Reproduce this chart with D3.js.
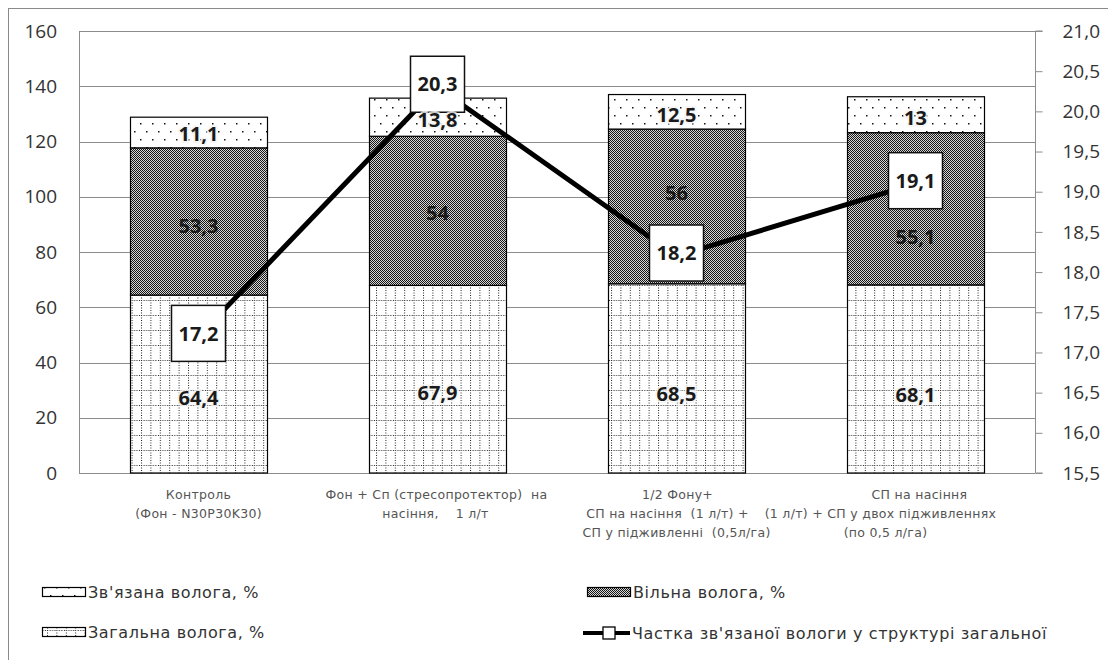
<!DOCTYPE html>
<html>
<head>
<meta charset="utf-8">
<script src="https://cdn.jsdelivr.net/npm/d3@7"></script>
<style>
  body { margin: 0; background: #fff; }
  svg { display: block; }
  .cat { white-space: pre; }
</style>
</head>
<body>
<svg id="chart" width="1108" height="660"></svg>
<script>
// Variants of the experiment (category labels, one array per wrapped line set)
const categories = [
  ["Контроль", "(Фон - N30P30K30)"],
  ["Фон + Сп (стресопротектор)  на", "насіння,    1 л/т"],
  ["1/2 Фону+", "СП на насіння  (1 л/т) +", "СП у підживленні  (0,5л/га)"],
  ["СП на насіння", "(1 л/т) + СП у двох підживленнях", "(по 0,5 л/га)"]
];

// Stacked moisture components, %
const totalMoisture = [64.4, 67.9, 68.5, 68.1];   // Загальна волога
const freeMoisture  = [53.3, 54, 56, 55.1];       // Вільна волога
const boundMoisture = [11.1, 13.8, 12.5, 13];     // Зв'язана волога

// Share of bound moisture in total structure (right axis)
const boundShare = [17.2, 20.3, 18.2, 19.1];

const leftTicks  = [0, 20, 40, 60, 80, 100, 120, 140, 160];
const rightTicks = [15.5, 16.0, 16.5, 17.0, 17.5, 18.0, 18.5, 19.0, 19.5, 20.0, 20.5, 21.0];

const seriesNames = {
  bound: "Зв'язана волога, %",
  free: "Вільна волога, %",
  total: "Загальна волога, %",
  share: "Частка зв'язаної вологи у структурі загальної"
};

// Manual vertical nudges (px) of the segment labels so they clear the line boxes
const labelNudge = {
  total: [14, 14, 15, 16],
  free:  [4, 2, -14, 28],
  bound: [1, 3, 3, 3]
};
// Horizontal shift (px) of individual category label lines
const catLineShift = [[0, 0], [-1, -2], [1, -9, 0], [4, -35, -30]];

const fmt = v => String(v).replace(".", ",");
const fmt1 = v => v.toFixed(1).replace(".", ",");

const svg = d3.select("#chart");
const plot = { left: 79, right: 1035, top: 31, bottom: 473 };

// ---- patterns ----
const defs = svg.append("defs");

const pDots = defs.append("pattern").attr("id", "pat-dots")
  .attr("patternUnits", "userSpaceOnUse").attr("width", 12).attr("height", 16);
pDots.append("rect").attr("width", 12).attr("height", 16).attr("fill", "#fff");
pDots.append("rect").attr("x", 2).attr("y", 3).attr("width", 1.5).attr("height", 1.5).attr("fill", "#111");
pDots.append("rect").attr("x", 8).attr("y", 11).attr("width", 1.5).attr("height", 1.5).attr("fill", "#111");

const pCheck = defs.append("pattern").attr("id", "pat-check")
  .attr("patternUnits", "userSpaceOnUse").attr("width", 2).attr("height", 2);
pCheck.append("rect").attr("width", 2).attr("height", 2).attr("fill", "#d6d6d6");
pCheck.append("rect").attr("x", 0).attr("y", 0).attr("width", 1).attr("height", 1).attr("fill", "#161616");
pCheck.append("rect").attr("x", 1).attr("y", 1).attr("width", 1).attr("height", 1).attr("fill", "#161616");

const pGrid = defs.append("pattern").attr("id", "pat-grid")
  .attr("patternUnits", "userSpaceOnUse").attr("width", 9.4).attr("height", 15);
pGrid.append("rect").attr("width", 9.4).attr("height", 15).attr("fill", "#fff");
pGrid.append("line").attr("x1", 0.5).attr("x2", 0.5).attr("y1", 0).attr("y2", 15)
  .attr("stroke", "#222").attr("stroke-width", 1).attr("stroke-dasharray", "1,1.5");
pGrid.append("line").attr("x1", 0).attr("x2", 9.4).attr("y1", 0.5).attr("y2", 0.5)
  .attr("stroke", "#222").attr("stroke-width", 1).attr("stroke-dasharray", "1,1.5");

// ---- outer frame ----
svg.append("rect").attr("x", 8.5).attr("y", 8.5).attr("width", 1120).attr("height", 700)
  .attr("fill", "none").attr("stroke", "#8a8a8a").attr("stroke-width", 1);

// ---- scales ----
const x = d3.scaleBand().domain(d3.range(categories.length))
  .range([plot.left, plot.right]).paddingInner(0.426).paddingOuter(0.213);
const y = d3.scaleLinear().domain([0, 160]).range([plot.bottom, plot.top]);
const y2 = d3.scaleLinear().domain([15.5, 21.0]).range([plot.bottom, plot.top]);

// ---- gridlines ----
svg.append("g").selectAll("line").data(leftTicks).join("line")
  .attr("x1", plot.left).attr("x2", plot.right)
  .attr("y1", d => Math.round(y(d)) + 0.5).attr("y2", d => Math.round(y(d)) + 0.5)
  .attr("stroke", "#8c8c8c").attr("stroke-width", 1);

// left plot edge
svg.append("line").attr("x1", plot.left + 0.5).attr("x2", plot.left + 0.5)
  .attr("y1", plot.top).attr("y2", plot.bottom).attr("stroke", "#8c8c8c");

// ---- axes ----
const axisFont = "'Open Sans', 'DejaVu Sans', sans-serif";
const gL = svg.append("g").attr("transform", `translate(${plot.left},0)`)
  .call(d3.axisLeft(y).tickValues(leftTicks).tickSize(0).tickPadding(22).tickFormat(d3.format("d")));
gL.select(".domain").remove();
gL.selectAll("text").attr("font-family", axisFont).attr("font-size", 19).attr("fill", "#333");

const gR = svg.append("g").attr("transform", `translate(${plot.right + 0.5},0)`)
  .call(d3.axisRight(y2).tickValues(rightTicks).tickSize(7).tickPadding(20).tickFormat(fmt1));
gR.select(".domain").attr("stroke", "#8c8c8c").attr("d", `M7,${plot.top}H0V${plot.bottom}H7`);
gR.selectAll(".tick line").attr("stroke", "#8c8c8c");
gR.selectAll("text").attr("font-family", axisFont).attr("font-size", 19).attr("fill", "#333");

// ---- stacked bars ----
const stacks = categories.map((c, i) => {
  const a = totalMoisture[i], b = freeMoisture[i], c2 = boundMoisture[i];
  return [
    { i, key: "total", y0: 0, y1: a, v: a, fill: "url(#pat-grid)" },
    { i, key: "free", y0: a, y1: a + b, v: b, fill: "url(#pat-check)" },
    { i, key: "bound", y0: a + b, y1: a + b + c2, v: c2, fill: "url(#pat-dots)" }
  ];
}).flat();

svg.append("g").selectAll("rect").data(stacks).join("rect")
  .attr("x", d => Math.round(x(d.i)) + 0.5)
  .attr("width", Math.round(x.bandwidth()))
  .attr("y", d => y(d.y1))
  .attr("height", d => y(d.y0) - y(d.y1))
  .attr("fill", d => d.fill)
  .attr("stroke", "#000").attr("stroke-width", 1.2);

// ---- share line ----
const lineGen = d3.line().x((d, i) => x(i) + x.bandwidth() / 2).y(d => y2(d));
svg.append("path").datum(boundShare).attr("d", lineGen)
  .attr("fill", "none").attr("stroke", "#000").attr("stroke-width", 5)
  .attr("stroke-linejoin", "round");

// ---- share value boxes ----
const labelFont = "'Open Sans', 'DejaVu Sans', sans-serif";
const boxW = 54, boxH = 56;
const boxes = svg.append("g").selectAll("g").data(boundShare).join("g")
  .attr("transform", (d, i) => `translate(${x(i) + x.bandwidth() / 2},${y2(d) - 3})`);
boxes.append("rect")
  .attr("x", -boxW / 2).attr("y", -boxH / 2).attr("width", boxW).attr("height", boxH)
  .attr("fill", "#fff").attr("stroke", "#111").attr("stroke-width", 1.5);
boxes.append("text")
  .attr("text-anchor", "middle").attr("dy", "0.36em")
  .attr("font-family", labelFont).attr("font-weight", "bold").attr("font-size", 20)
  .attr("fill", "#1a1a1a")
  .text(d => fmt1(d));

// ---- segment value labels ----
svg.append("g").selectAll("text").data(stacks).join("text")
  .attr("x", d => x(d.i) + x.bandwidth() / 2)
  .attr("y", d => (y(d.y0) + y(d.y1)) / 2 + labelNudge[d.key][d.i])
  .attr("dy", "0.36em")
  .attr("text-anchor", "middle")
  .attr("font-family", labelFont).attr("font-weight", "bold").attr("font-size", 20)
  .attr("fill", "#1a1a1a")
  .attr("stroke", d => d.key === "free" ? "none" : "rgba(245,245,245,0.8)")
  .attr("stroke-width", 4).attr("paint-order", "stroke")
  .text(d => fmt(d.v));

// ---- category labels ----
const catFont = "'DejaVu Sans', sans-serif";
const catG = svg.append("g").selectAll("text").data(categories).join("text")
  .attr("class", "cat")
  .attr("text-anchor", "middle")
  .attr("font-family", catFont).attr("font-size", 12.5).attr("letter-spacing", 0.3)
  .attr("fill", "#555");
catG.selectAll("tspan").data((d, i) => d.map((t, k) => ({ t, i, k }))).join("tspan")
  .attr("x", d => x(d.i) + x.bandwidth() / 2 + catLineShift[d.i][d.k])
  .attr("y", d => 499 + d.k * 19)
  .text(d => d.t);

// ---- legend ----
const legFont = "'DejaVu Sans', sans-serif";
const legend = svg.append("g");
const legItems = [
  { key: "bound", x: 42, y: 592, fill: "url(#pat-dots)" },
  { key: "total", x: 42, y: 632, fill: "url(#pat-grid)" },
  { key: "free", x: 587, y: 592, fill: "url(#pat-check)" }
];
legItems.forEach(it => {
  legend.append("rect").attr("x", it.x + 0.5).attr("y", it.y - 4.5).attr("width", 43).attr("height", 9)
    .attr("fill", it.fill).attr("stroke", "#000").attr("stroke-width", 1.2);
  legend.append("text").attr("x", it.x + 46).attr("y", it.y).attr("dy", "0.35em")
    .attr("font-family", legFont).attr("font-size", 16).attr("letter-spacing", 0.6).attr("fill", "#333")
    .text(seriesNames[it.key]);
});
legend.append("line").attr("x1", 583).attr("x2", 630).attr("y1", 633).attr("y2", 633)
  .attr("stroke", "#000").attr("stroke-width", 4);
legend.append("rect").attr("x", 603).attr("y", 627).attr("width", 12).attr("height", 12)
  .attr("fill", "#fff").attr("stroke", "#000").attr("stroke-width", 1.3);
legend.append("text").attr("x", 632).attr("y", 633).attr("dy", "0.35em")
  .attr("font-family", legFont).attr("font-size", 16).attr("letter-spacing", 0.6).attr("fill", "#333")
  .text(seriesNames.share);
</script>
</body>
</html>
